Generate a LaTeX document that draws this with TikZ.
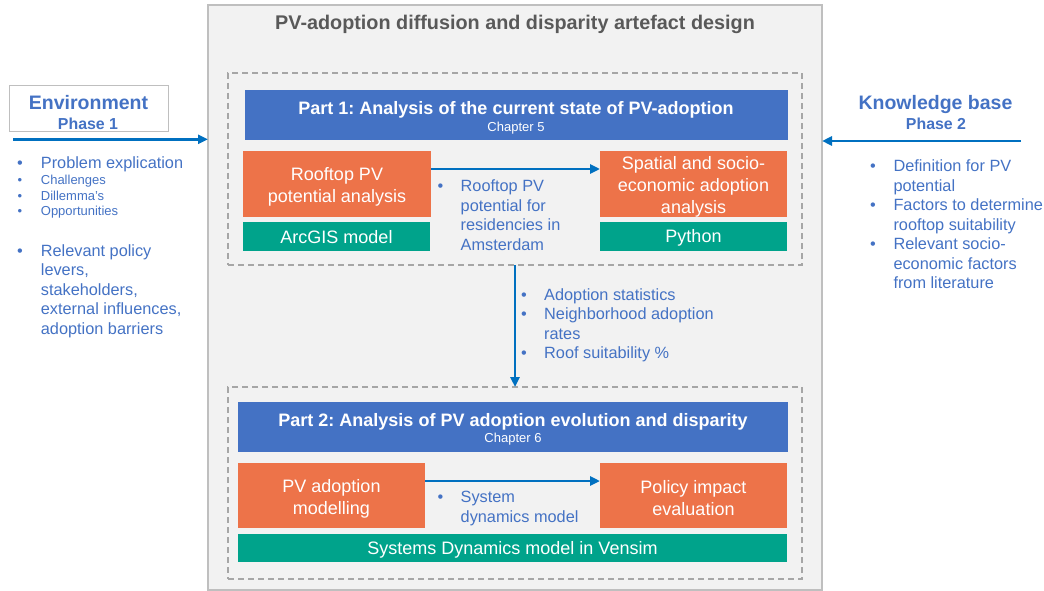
\documentclass[tikz,border=0pt]{standalone}
\usepackage{fontspec}
\setmainfont{Liberation Sans}
\usetikzlibrary{arrows.meta}
\definecolor{bggray}{HTML}{F2F2F2}
\definecolor{framegray}{HTML}{BFBFBF}
\definecolor{dashgray}{HTML}{A6A6A6}
\definecolor{barblue}{HTML}{4472C4}
\definecolor{orng}{HTML}{ED7349}
\definecolor{tealc}{HTML}{00A38B}
\definecolor{arrowblue}{HTML}{0070C0}
\definecolor{txtblue}{HTML}{4472C4}
\definecolor{titlegray}{HTML}{595959}
\frenchspacing
\begin{document}
\begin{tikzpicture}[x=1pt,y=-1pt,
  box/.style={inner sep=0pt, outer sep=0pt, align=center},
  mainframe/.style={box, draw=framegray, fill=bggray, line width=1.8pt},
  dashbox/.style={box, draw=dashgray, line width=1.3pt, dash pattern=on 6pt off 4pt},
  bar/.style={box, fill=barblue},
  obox/.style={box, fill=orng},
  tbox/.style={box, fill=tealc},
  intext/.style={inner sep=0pt, align=center, text=white, font=\fontsize{18}{22}\selectfont},
  flow/.style={draw=arrowblue, line width=2.5pt, -{Triangle[length=10pt,width=9pt]}},
  bt/.style={anchor=base west, inner sep=0pt, text=txtblue, font=\fontsize{16.3}{19.5}\selectfont},
  bs/.style={bt, font=\fontsize{13}{16}\selectfont},
  bdot/.style={anchor=base, inner sep=0pt, text=txtblue, font=\fontsize{16.3}{19.5}\selectfont},
  bdots/.style={bdot, font=\fontsize{13}{16}\selectfont},
  heading/.style={anchor=base, inner sep=0pt, text=txtblue, font=\fontsize{19.5}{22}\selectfont\bfseries},
  phase/.style={anchor=base, inner sep=0pt, text=txtblue, font=\fontsize{15.9}{18}\selectfont\bfseries},
  bartitle/.style={anchor=base, inner sep=0pt, text=white, font=\fontsize{18}{22}\selectfont\bfseries},
  barsub/.style={anchor=base, inner sep=0pt, text=white, font=\fontsize{13}{15}\selectfont}
]
\useasboundingbox (0,0) rectangle (1044,591);

% main frame
\node[mainframe, minimum width=614pt, minimum height=585pt] (main) at (515,297.5) {};
\node[anchor=base, inner sep=0pt, text=titlegray, font=\fontsize{19.8}{22}\selectfont\bfseries] (title) at (515,29.5) {PV-adoption diffusion and disparity artefact design};

% Part 1
\node[dashbox, minimum width=574pt, minimum height=192pt] (d1) at (515,169) {};
\node[bar, minimum width=543pt, minimum height=50pt] (bar1) at (516.5,115) {};
\node[bartitle] (bar1t) at (516,114.5) {Part 1: Analysis of the current state of PV-adoption};
\node[barsub] (bar1s) at (516,131.7) {Chapter 5};

\node[obox, minimum width=188pt, minimum height=66pt] (o1) at (337,184) {};
\node[intext] (o1t) at ([yshift=-3pt]o1.center) {Rooftop PV\\potential analysis};
\node[tbox, minimum width=187pt, minimum height=29pt] (t1) at (336.5,236.5) {};
\node[intext] (t1t) at ([yshift=-1pt]t1.center) {ArcGIS model};
\node[obox, minimum width=187pt, minimum height=66pt] (o2) at (693.5,184) {};
\node[intext] (o2t) at ([yshift=-3pt]o2.center) {Spatial and socio-\\economic adoption\\analysis};
\node[tbox, minimum width=187pt, minimum height=29pt] (t2) at (693.5,236.5) {};
\node[intext] (t2t) at ([yshift=-1pt]t2.center) {Python};
\draw[flow] ([yshift=15pt]o1.east) -- ([yshift=15pt]o2.west);

\node[bdot] (m1d) at (440.5,191.5) {•};
\node[bt] (m1a) at (460.5,191.5) {Rooftop PV};
\node[bt] (m1b) at (460.5,211) {potential for};
\node[bt] (m1c) at (460.5,230.5) {residencies in};
\node[bt] (m1e) at (460.5,250) {Amsterdam};

% Part 2
\node[dashbox, minimum width=574pt, minimum height=192pt] (d2) at (515,483) {};
\draw[flow] (d1.south) -- (d2.north);

\node[bdot] (v1d) at (524,300) {•};
\node[bt] (v1) at (544,300) {Adoption statistics};
\node[bdot] (v2d) at (524,319.5) {•};
\node[bt] (v2) at (544,319.5) {Neighborhood adoption};
\node[bt] (v3) at (544,339) {rates};
\node[bdot] (v4d) at (524,358.5) {•};
\node[bt] (v4) at (544,358.5) {Roof suitability \%};

\node[bar, minimum width=550pt, minimum height=50pt] (bar2) at (513,427) {};
\node[bartitle] (bar2t) at (513,426.4) {Part 2: Analysis of PV adoption evolution and disparity};
\node[barsub] (bar2s) at (513,442.7) {Chapter 6};

\node[obox, minimum width=187pt, minimum height=65pt] (p1) at (331.5,495.5) {};
\node[intext] (p1t) at ([yshift=-3pt]p1.center) {PV adoption\\modelling};
\node[obox, minimum width=187pt, minimum height=65pt] (p2) at (693.5,495.5) {};
\node[intext] (p2t) at ([yshift=-3pt]p2.center) {Policy impact\\evaluation};
\node[tbox, minimum width=549pt, minimum height=28pt] (t3) at (512.5,548) {};
\node[intext] (t3t) at ([yshift=-1.5pt]t3.center) {Systems Dynamics model in Vensim};
\draw[flow] ([yshift=14.5pt]p1.east) -- ([yshift=14.5pt]p2.west);

\node[bdot] (m2d) at (440.5,502.5) {•};
\node[bt] (m2a) at (460.5,502.5) {System};
\node[bt] (m2b) at (460.5,522) {dynamics model};

% Environment (left)
\node[box, draw=framegray, fill=white, line width=1pt, minimum width=158.5pt, minimum height=46.5pt] (env) at (89,108.3) {};
\node[heading] (envt) at (88.5,110) {Environment};
\node[phase] (envp) at (88,130) {Phase 1};
\coordinate (lin) at (13,139.3);
\draw[flow] (lin) -- (lin -| main.west);

\node[bdot] (l1d) at (20,168) {•};
\node[bt] (l1) at (40.7,168) {Problem explication};
\node[bdots] (l2d) at (20,184.3) {•};
\node[bs] (l2) at (40.7,184.3) {Challenges};
\node[bdots] (l3d) at (20,200) {•};
\node[bs] (l3) at (40.7,200) {Dillemma's};
\node[bdots] (l4d) at (20,215.7) {•};
\node[bs] (l4) at (40.7,215.7) {Opportunities};
\node[bdot] (l5d) at (20,256) {•};
\node[bt] (l5) at (40.7,256) {Relevant policy};
\node[bt] (l6) at (40.7,275.5) {levers,};
\node[bt] (l7) at (40.7,295) {stakeholders,};
\node[bt] (l8) at (40.7,314.5) {external influences,};
\node[bt] (l9) at (40.7,334) {adoption barriers};

% Knowledge base (right)
\node[heading] (kbt) at (935.5,110) {Knowledge base};
\node[phase] (kbp) at (936,130) {Phase 2};
\coordinate (rin) at (1021,141);
\draw[flow] (rin) -- (rin -| main.east);

\node[bdot] (r1d) at (873,171.5) {•};
\node[bt] (r1) at (893.3,171.5) {Definition for PV};
\node[bt] (r2) at (893.3,191) {potential};
\node[bdot] (r3d) at (873,210.5) {•};
\node[bt] (r3) at (893.3,210.5) {Factors to determine};
\node[bt] (r4) at (893.3,230) {rooftop suitability};
\node[bdot] (r5d) at (873,249.5) {•};
\node[bt] (r5) at (893.3,249.5) {Relevant socio-};
\node[bt] (r6) at (893.3,269) {economic factors};
\node[bt] (r7) at (893.3,288.5) {from literature};
\end{tikzpicture}
\end{document}
